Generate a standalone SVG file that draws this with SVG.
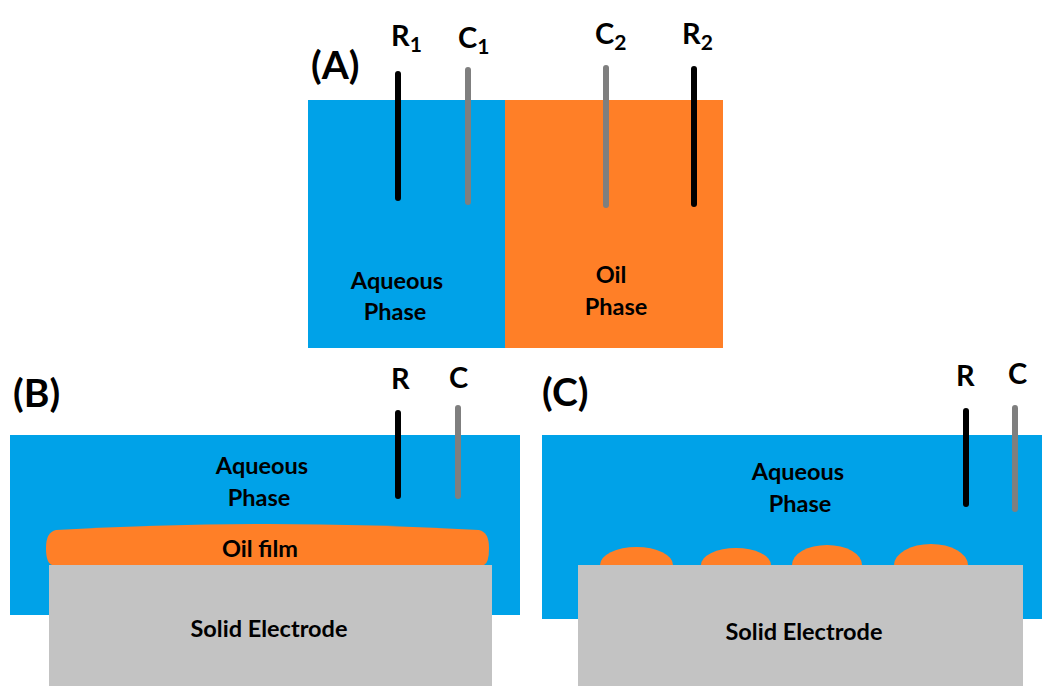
<svg xmlns="http://www.w3.org/2000/svg" width="1042" height="686" viewBox="0 0 1042 686">
<style>
.t{font-family:Lato,"Open Sans","Liberation Sans",sans-serif;font-weight:bold;fill:#000;text-anchor:middle}
.lab{font-size:23.5px}
.el{font-size:29px;text-anchor:start}
.pn{font-size:39px;text-anchor:start}
.sub{font-size:21px}
.blk{stroke:#000;stroke-width:6;stroke-linecap:round}
.gry{stroke:#7f7f7f;stroke-width:6;stroke-linecap:round}
.aq{fill:#00a2e8}
.oil{fill:#ff7f27}
.sol{fill:#c3c3c3}
</style>
<rect width="1042" height="686" fill="#fff"/>
<g id="panelA">
<rect class="aq" x="308" y="100" width="197" height="248"/>
<rect class="oil" x="505" y="100" width="218" height="248"/>
<text class="t pn" x="311" y="79">(A)</text>
<text class="t lab" x="397" y="289">Aqueous</text>
<text class="t lab" x="395" y="320">Phase</text>
<text class="t lab" x="611" y="283">Oil</text>
<text class="t lab" x="616" y="315">Phase</text>
</g>
<g id="electrodesA">
<line class="blk" x1="398" y1="74" x2="398" y2="198"/>
<line class="gry" x1="468" y1="70" x2="468" y2="202"/>
<line class="gry" x1="606" y1="68" x2="606" y2="205"/>
<line class="blk" x1="694" y1="69" x2="694" y2="204"/>
<text class="t el" x="391" y="46">R<tspan class="sub" dy="6">1</tspan></text>
<text class="t el" x="458" y="48">C<tspan class="sub" dy="6">1</tspan></text>
<text class="t el" x="595" y="44">C<tspan class="sub" dy="6">2</tspan></text>
<text class="t el" x="682" y="44">R<tspan class="sub" dy="6">2</tspan></text>
</g>
<g id="panelB">
<rect class="aq" x="10" y="435" width="510" height="180"/>
<path class="oil" d="M52 565 Q46 563 46 548 Q46 532 56 530 Q268 518 479 530 Q489 532 489 548 Q489 563 484 565 Z"/>
<rect class="sol" x="49" y="565" width="443" height="121"/>
<text class="t pn" x="13" y="407">(B)</text>
<text class="t lab" x="262" y="474">Aqueous</text>
<text class="t lab" x="259" y="506">Phase</text>
<text class="t lab" x="260" y="557">Oil film</text>
<text class="t lab" x="269" y="637">Solid Electrode</text>
<line class="blk" x1="398" y1="413" x2="398" y2="496"/>
<line class="gry" x1="458" y1="408" x2="458" y2="496"/>
<text class="t el" x="391" y="389">R</text>
<text class="t el" x="449" y="388">C</text>
</g>
<g id="panelC">
<rect class="aq" x="542" y="435" width="500" height="184"/>
<path class="oil" d="M600 565 A36.5 18 0 0 1 673 565 Z"/>
<path class="oil" d="M701 565 A35 17 0 0 1 771 565 Z"/>
<path class="oil" d="M792 565 A35 20 0 0 1 862 565 Z"/>
<path class="oil" d="M894 565 A37 21 0 0 1 968 565 Z"/>
<rect class="sol" x="578" y="565" width="445" height="121"/>
<text class="t pn" x="542" y="406">(C)</text>
<text class="t lab" x="798" y="480">Aqueous</text>
<text class="t lab" x="800" y="512">Phase</text>
<text class="t lab" x="804" y="640">Solid Electrode</text>
<line class="blk" x1="966" y1="411" x2="966" y2="504"/>
<line class="gry" x1="1015" y1="408" x2="1015" y2="509"/>
<text class="t el" x="956" y="386">R</text>
<text class="t el" x="1008" y="384">C</text>
</g>
</svg>
